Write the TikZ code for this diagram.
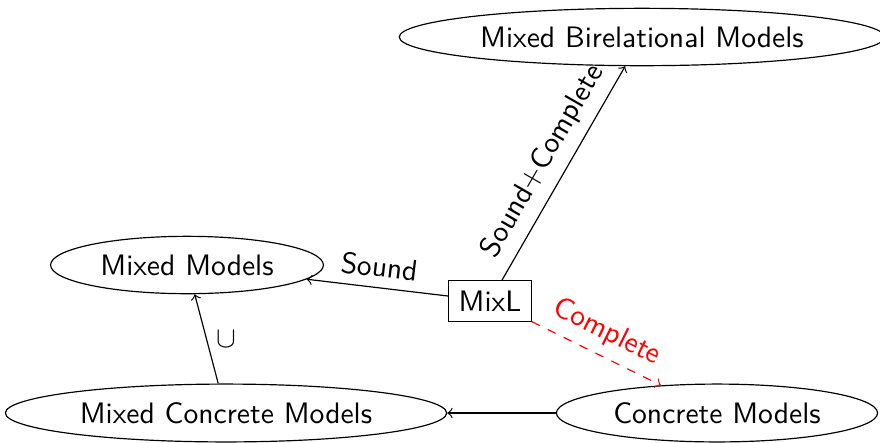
\documentclass[tikz,border=0pt]{standalone}
\usetikzlibrary{shapes.geometric}
\begin{document}
\begin{tikzpicture}[x=0.338pt,y=-0.338pt,
  every node/.style={font=\sffamily},
  model/.style={ellipse,draw,inner sep=3.33pt},
  logic/.style={rectangle,draw,inner sep=3.33pt},
  edge/.style={->},
  redge/.style={->,red,dashed}]
\useasboundingbox (0,0) rectangle (880,442);
\node[model] (bir) at (642,37) {Mixed Birelational Models};
\node[model] (mm) at (187,265) {Mixed Models};
\node[logic] (mixl) at (490,301) {MixL};
\node[model] (mcm) at (226,413) {Mixed Concrete Models};
\node[model] (cm) at (717,413) {Concrete Models};
\draw[edge] (mixl) -- node[sloped,above] {Sound+Complete} (bir);
\draw[edge] (mixl) -- node[sloped,above] {Sound} (mm);
\draw[redge] (mixl) -- node[sloped,above] {Complete} (cm);
\draw[edge] (cm) -- (mcm);
\draw[edge] (mcm) -- node[right] {$\cup$} (mm);
\end{tikzpicture}
\end{document}
